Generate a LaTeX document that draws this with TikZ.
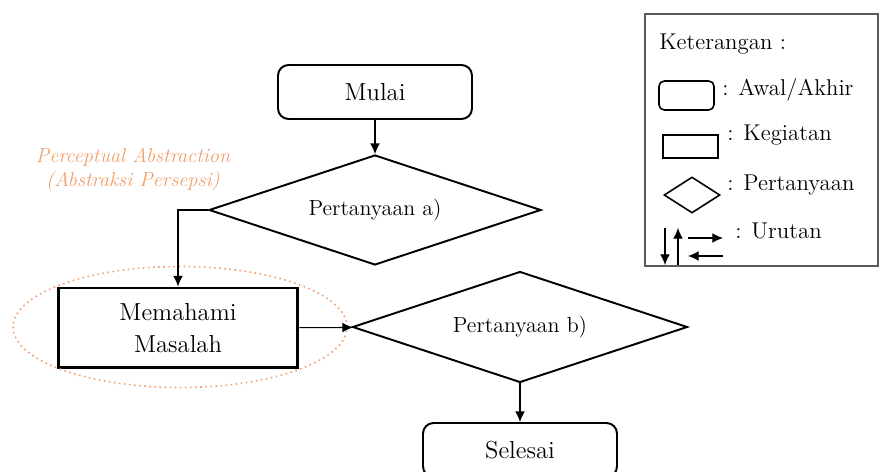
\documentclass[tikz,border=0pt]{standalone}
\usetikzlibrary{positioning,shapes.geometric,arrows.meta}
\definecolor{abstrorange}{RGB}{242,158,105}
\definecolor{framegray}{RGB}{90,90,90}

\begin{document}
\begin{tikzpicture}[
  x=0.02cm, y=-0.02cm,
  every node/.style={font=\fontsize{14}{18}\selectfont},
  terminal/.style={draw, line width=1.1pt, rounded corners=6pt, minimum width=3.88cm, minimum height=1.08cm},
  activity/.style={draw, line width=1.7pt, align=center, minimum width=4.8cm, minimum height=1.6cm},
  question/.style={draw, line width=1.1pt, diamond, aspect=3, inner sep=0pt, font=\fontsize{12.5}{15}\selectfont},
  legendtext/.style={anchor=west, inner sep=0pt, font=\fontsize{13}{16}\selectfont},
  arrow/.style={-{Latex[length=6pt,width=5.5pt]}, line width=0.6pt}
]
\useasboundingbox (0,0) rectangle (880,472);

% alur utama
\node[terminal] (mulai) at (375,92) {Mulai};
\node[question, minimum width=6.64cm, minimum height=2.2cm] (tanyaA) at (375,210) {Pertanyaan a)};
\node[activity] (paham) at (178,328) {Memahami\\Masalah};
\node[question, minimum width=6.7cm, minimum height=2.22cm] (tanyaB) at (520,327) {Pertanyaan b)};
\node[terminal] (selesai) at (520,450) {Selesai};

% abstraksi persepsi
\node[draw=abstrorange, ellipse, dotted, line width=0.9pt, minimum width=6.68cm, minimum height=2.42cm] (lingkup) at (180,327) {};
\node[text=abstrorange, align=center, font=\itshape\fontsize{11.5}{13.5}\selectfont] (persepsi) at (133,170) {Perceptual Abstraction\\(Abstraksi Persepsi)};

\draw[arrow] (mulai) -- (tanyaA);
\draw[arrow] (tanyaA.west) -| (paham.north);
\draw[arrow] (paham) -- (tanyaB);
\draw[arrow] (tanyaB) -- (selesai);

% keterangan
\node[draw=framegray, line width=1.6pt, minimum width=4.66cm, minimum height=5.04cm] (legenda) at (761.5,140) {};
\node[legendtext] (judul) at (659,44) {Keterangan :};
\node[terminal, line width=0.9pt, rounded corners=3pt, minimum width=1.1cm, minimum height=0.58cm] (lgAwal) at (686.5,95.5) {};
\node[legendtext] (txAwal) at (722,90) {: Awal/Akhir};
\node[draw, line width=0.9pt, minimum width=1.1cm, minimum height=0.46cm] (lgKegiatan) at (690.5,146.5) {};
\node[legendtext] (txKegiatan) at (727,135) {: Kegiatan};
\node[draw, diamond, line width=0.9pt, inner sep=0pt, minimum width=1.12cm, minimum height=0.72cm] (lgTanya) at (692,195) {};
\node[legendtext] (txTanya) at (727,185) {: Pertanyaan};
\coordinate (turunA) at (665,228);
\coordinate (turunB) at (665,265);
\coordinate (naikA) at (678,265);
\coordinate (naikB) at (678,228);
\coordinate (kananA) at (688,238);
\coordinate (kananB) at (723,238);
\coordinate (kiriA) at (723,256);
\coordinate (kiriB) at (688,256);
\draw[arrow] (turunA) -- (turunB);
\draw[arrow] (naikA) -- (naikB);
\draw[arrow] (kananA) -- (kananB);
\draw[arrow] (kiriA) -- (kiriB);
\node[legendtext] (txUrutan) at (735,231) {: Urutan};
\end{tikzpicture}
\end{document}
